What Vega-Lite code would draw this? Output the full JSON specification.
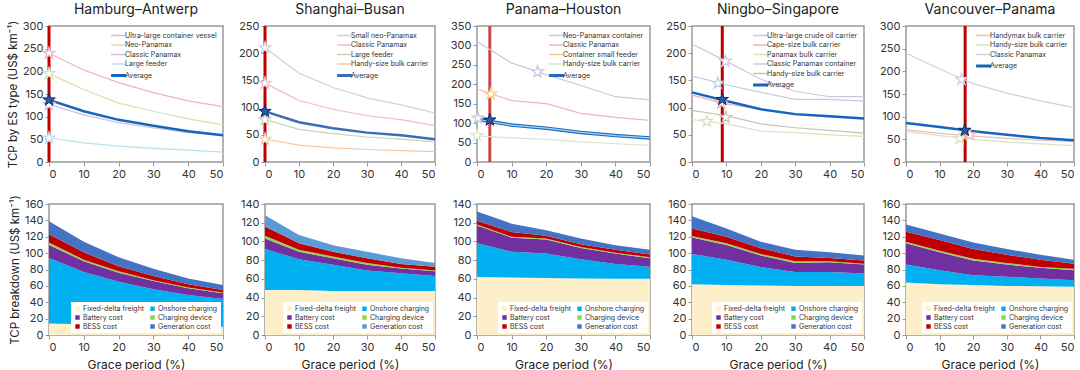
{
"$schema": "https://vega.github.io/schema/vega-lite/v6.json",
"padding": {"left": 6, "top": 2, "right": 1, "bottom": 1},
"background": "white",
"columns": 5,
"bounds": "flush",
"spacing": {"row": 42, "column": 42},
"resolve": {"scale": {"color": "independent", "x": "independent", "y": "independent"}, "legend": {"color": "independent"}},
"config": {
  "font": "Inter",
  "view": {"stroke": "#9a9a9a", "strokeWidth": 1.5},
  "axis": {"domain": false, "grid": false, "tickColor": "#9a9a9a", "tickSize": 4, "labelFontSize": 11, "labelColor": "#333", "titleFontSize": 11.5, "titleFontWeight": "normal", "titleColor": "#222", "labelPadding": 2},
  "axisX": {"titleFontSize": 12},
  "title": {"fontSize": 14, "fontWeight": "normal", "color": "#222", "offset": 3},
  "legend": {"labelFontSize": 7, "labelColor": "#333", "rowPadding": 1.5, "padding": 3, "offset": 4, "labelOffset": 3}
},
"datasets": {
"ha": [
{"series":"Ultra-large container vessel","grace":0,"tcp":240},{"series":"Ultra-large container vessel","grace":10,"tcp":203},{"series":"Ultra-large container vessel","grace":20,"tcp":175},{"series":"Ultra-large container vessel","grace":30,"tcp":153},{"series":"Ultra-large container vessel","grace":40,"tcp":135},{"series":"Ultra-large container vessel","grace":50,"tcp":122},
{"series":"Neo-Panamax","grace":0,"tcp":195},{"series":"Neo-Panamax","grace":10,"tcp":160},{"series":"Neo-Panamax","grace":20,"tcp":130},{"series":"Neo-Panamax","grace":30,"tcp":112},{"series":"Neo-Panamax","grace":40,"tcp":95},{"series":"Neo-Panamax","grace":50,"tcp":82},
{"series":"Classic Panamax","grace":0,"tcp":127},{"series":"Classic Panamax","grace":10,"tcp":104},{"series":"Classic Panamax","grace":20,"tcp":87},{"series":"Classic Panamax","grace":30,"tcp":75},{"series":"Classic Panamax","grace":40,"tcp":65},{"series":"Classic Panamax","grace":50,"tcp":58},
{"series":"Large feeder","grace":0,"tcp":53},{"series":"Large feeder","grace":10,"tcp":42},{"series":"Large feeder","grace":20,"tcp":35},{"series":"Large feeder","grace":30,"tcp":30},{"series":"Large feeder","grace":40,"tcp":26},{"series":"Large feeder","grace":50,"tcp":22},
{"series":"Average","grace":0,"tcp":137},{"series":"Average","grace":10,"tcp":112},{"series":"Average","grace":20,"tcp":93},{"series":"Average","grace":30,"tcp":80},{"series":"Average","grace":40,"tcp":68},{"series":"Average","grace":50,"tcp":59}
],
"sb": [
{"series":"Small neo-Panamax","grace":0,"tcp":210},{"series":"Small neo-Panamax","grace":10,"tcp":163},{"series":"Small neo-Panamax","grace":20,"tcp":137},{"series":"Small neo-Panamax","grace":30,"tcp":118},{"series":"Small neo-Panamax","grace":40,"tcp":105},{"series":"Small neo-Panamax","grace":50,"tcp":90},
{"series":"Classic Panamax","grace":0,"tcp":145},{"series":"Classic Panamax","grace":10,"tcp":113},{"series":"Classic Panamax","grace":20,"tcp":97},{"series":"Classic Panamax","grace":30,"tcp":85},{"series":"Classic Panamax","grace":40,"tcp":78},{"series":"Classic Panamax","grace":50,"tcp":67},
{"series":"Large feeder","grace":0,"tcp":78},{"series":"Large feeder","grace":10,"tcp":60},{"series":"Large feeder","grace":20,"tcp":52},{"series":"Large feeder","grace":30,"tcp":46},{"series":"Large feeder","grace":40,"tcp":42},{"series":"Large feeder","grace":50,"tcp":37},
{"series":"Handy-size bulk carrier","grace":0,"tcp":42},{"series":"Handy-size bulk carrier","grace":10,"tcp":31},{"series":"Handy-size bulk carrier","grace":20,"tcp":26},{"series":"Handy-size bulk carrier","grace":30,"tcp":23},{"series":"Handy-size bulk carrier","grace":40,"tcp":21},{"series":"Handy-size bulk carrier","grace":50,"tcp":19},
{"series":"Average","grace":0,"tcp":93},{"series":"Average","grace":10,"tcp":73},{"series":"Average","grace":20,"tcp":62},{"series":"Average","grace":30,"tcp":54},{"series":"Average","grace":40,"tcp":49},{"series":"Average","grace":50,"tcp":42}
],
"ph": [
{"series":"Neo-Panamax container","grace":0,"tcp":310},{"series":"Neo-Panamax container","grace":10,"tcp":255},{"series":"Neo-Panamax container","grace":20,"tcp":225},{"series":"Neo-Panamax container","grace":30,"tcp":197},{"series":"Neo-Panamax container","grace":40,"tcp":168},{"series":"Neo-Panamax container","grace":50,"tcp":160},
{"series":"Classic Panamax","grace":0,"tcp":188},{"series":"Classic Panamax","grace":10,"tcp":158},{"series":"Classic Panamax","grace":20,"tcp":150},{"series":"Classic Panamax","grace":30,"tcp":125},{"series":"Classic Panamax","grace":40,"tcp":115},{"series":"Classic Panamax","grace":50,"tcp":107},
{"series":"Handy-size bulk carrier","grace":0,"tcp":67},{"series":"Handy-size bulk carrier","grace":10,"tcp":62},{"series":"Handy-size bulk carrier","grace":20,"tcp":58},{"series":"Handy-size bulk carrier","grace":30,"tcp":52},{"series":"Handy-size bulk carrier","grace":40,"tcp":47},{"series":"Handy-size bulk carrier","grace":50,"tcp":43},
{"series":"Average","grace":0,"tcp":110},{"series":"Average","grace":10,"tcp":95},{"series":"Average","grace":20,"tcp":87},{"series":"Average","grace":30,"tcp":76},{"series":"Average","grace":40,"tcp":68},{"series":"Average","grace":50,"tcp":62}
],
"ns": [
{"series":"Ultra-large crude oil carrier","grace":0,"tcp":158},{"series":"Ultra-large crude oil carrier","grace":10,"tcp":142},{"series":"Ultra-large crude oil carrier","grace":20,"tcp":128},{"series":"Ultra-large crude oil carrier","grace":30,"tcp":115},{"series":"Ultra-large crude oil carrier","grace":40,"tcp":115},{"series":"Ultra-large crude oil carrier","grace":50,"tcp":112},
{"series":"Cape-size bulk carrier","grace":0,"tcp":123},{"series":"Cape-size bulk carrier","grace":10,"tcp":107},{"series":"Cape-size bulk carrier","grace":20,"tcp":97},{"series":"Cape-size bulk carrier","grace":30,"tcp":87},{"series":"Cape-size bulk carrier","grace":40,"tcp":83},{"series":"Cape-size bulk carrier","grace":50,"tcp":80},
{"series":"Panamax bulk carrier","grace":0,"tcp":78},{"series":"Panamax bulk carrier","grace":10,"tcp":70},{"series":"Panamax bulk carrier","grace":20,"tcp":57},{"series":"Panamax bulk carrier","grace":30,"tcp":54},{"series":"Panamax bulk carrier","grace":40,"tcp":50},{"series":"Panamax bulk carrier","grace":50,"tcp":47},
{"series":"Classic Panamax container","grace":0,"tcp":217},{"series":"Classic Panamax container","grace":10,"tcp":185},{"series":"Classic Panamax container","grace":20,"tcp":152},{"series":"Classic Panamax container","grace":30,"tcp":130},{"series":"Classic Panamax container","grace":40,"tcp":120},{"series":"Classic Panamax container","grace":50,"tcp":120},
{"series":"Handy-size bulk carrier","grace":0,"tcp":95},{"series":"Handy-size bulk carrier","grace":10,"tcp":85},{"series":"Handy-size bulk carrier","grace":20,"tcp":70},{"series":"Handy-size bulk carrier","grace":30,"tcp":63},{"series":"Handy-size bulk carrier","grace":40,"tcp":58},{"series":"Handy-size bulk carrier","grace":50,"tcp":53},
{"series":"Average","grace":0,"tcp":128},{"series":"Average","grace":10,"tcp":112},{"series":"Average","grace":20,"tcp":97},{"series":"Average","grace":30,"tcp":88},{"series":"Average","grace":40,"tcp":84},{"series":"Average","grace":50,"tcp":80}
],
"vp": [
{"series":"Handymax bulk carrier","grace":0,"tcp":71},{"series":"Handymax bulk carrier","grace":10,"tcp":63},{"series":"Handymax bulk carrier","grace":20,"tcp":57},{"series":"Handymax bulk carrier","grace":30,"tcp":52},{"series":"Handymax bulk carrier","grace":40,"tcp":48},{"series":"Handymax bulk carrier","grace":50,"tcp":45},
{"series":"Handy-size bulk carrier","grace":0,"tcp":67},{"series":"Handy-size bulk carrier","grace":10,"tcp":58},{"series":"Handy-size bulk carrier","grace":20,"tcp":50},{"series":"Handy-size bulk carrier","grace":30,"tcp":44},{"series":"Handy-size bulk carrier","grace":40,"tcp":40},{"series":"Handy-size bulk carrier","grace":50,"tcp":36},
{"series":"Classic Panamax","grace":0,"tcp":240},{"series":"Classic Panamax","grace":10,"tcp":205},{"series":"Classic Panamax","grace":20,"tcp":173},{"series":"Classic Panamax","grace":30,"tcp":152},{"series":"Classic Panamax","grace":40,"tcp":135},{"series":"Classic Panamax","grace":50,"tcp":120},
{"series":"Average","grace":0,"tcp":86},{"series":"Average","grace":10,"tcp":77},{"series":"Average","grace":20,"tcp":68},{"series":"Average","grace":30,"tcp":60},{"series":"Average","grace":40,"tcp":53},{"series":"Average","grace":50,"tcp":48}
],
"stars": [
{"route":"HA","series":"Ultra-large container vessel","grace":0,"tcp":240},{"route":"HA","series":"Neo-Panamax","grace":0,"tcp":195},{"route":"HA","series":"Classic Panamax","grace":0,"tcp":127},{"route":"HA","series":"Large feeder","grace":0,"tcp":53},{"route":"HA","series":"Average","grace":0,"tcp":137},
{"route":"SB","series":"Small neo-Panamax","grace":0,"tcp":210},{"route":"SB","series":"Classic Panamax","grace":0,"tcp":145},{"route":"SB","series":"Large feeder","grace":0,"tcp":78},{"route":"SB","series":"Handy-size bulk carrier","grace":0,"tcp":42},{"route":"SB","series":"Average","grace":0,"tcp":93},
{"route":"PH","series":"Neo-Panamax container","grace":17.5,"tcp":232},{"route":"PH","series":"Container small feeder","grace":4,"tcp":175},{"route":"PH","series":"Neo-Panamax container","grace":0.3,"tcp":113},{"route":"PH","series":"Handy-size bulk carrier","grace":0,"tcp":68},{"route":"PH","series":"Average","grace":3.7,"tcp":108},
{"route":"NS","series":"Classic Panamax container","grace":9.7,"tcp":185},{"route":"NS","series":"Ultra-large crude oil carrier","grace":7.5,"tcp":145},{"route":"NS","series":"Cape-size bulk carrier","grace":8.5,"tcp":108},{"route":"NS","series":"Handy-size bulk carrier","grace":9.8,"tcp":82},{"route":"NS","series":"Panamax bulk carrier","grace":4.3,"tcp":75},{"route":"NS","series":"Average","grace":8.8,"tcp":115},
{"route":"VP","series":"Classic Panamax","grace":16.5,"tcp":182},{"route":"VP","series":"Handymax bulk carrier","grace":19,"tcp":60},{"route":"VP","series":"Handy-size bulk carrier","grace":16,"tcp":52},{"route":"VP","series":"Average","grace":17.5,"tcp":70}
],
"ref": [
{"route":"HA","grace":0},{"route":"SB","grace":0},{"route":"PH","grace":3.7},{"route":"NS","grace":8.8},{"route":"VP","grace":17.6}
],
"stackrank": [
{"component":"Fixed-delta freight","rank":1},{"component":"Onshore charging","rank":2},{"component":"Battery cost","rank":3},{"component":"Charging device","rank":4},{"component":"BESS cost","rank":5},{"component":"Generation cost","rank":6}
],
"bd": [
{"route":"HA","component":"Fixed-delta freight","grace":0,"cost":14},{"route":"HA","component":"Fixed-delta freight","grace":10,"cost":13},{"route":"HA","component":"Fixed-delta freight","grace":20,"cost":12},{"route":"HA","component":"Fixed-delta freight","grace":30,"cost":11},{"route":"HA","component":"Fixed-delta freight","grace":40,"cost":11},{"route":"HA","component":"Fixed-delta freight","grace":50,"cost":10},
{"route":"HA","component":"Onshore charging","grace":0,"cost":80},{"route":"HA","component":"Onshore charging","grace":10,"cost":64},{"route":"HA","component":"Onshore charging","grace":20,"cost":53},{"route":"HA","component":"Onshore charging","grace":30,"cost":45},{"route":"HA","component":"Onshore charging","grace":40,"cost":38},{"route":"HA","component":"Onshore charging","grace":50,"cost":34},
{"route":"HA","component":"Battery cost","grace":0,"cost":16},{"route":"HA","component":"Battery cost","grace":10,"cost":13},{"route":"HA","component":"Battery cost","grace":20,"cost":11},{"route":"HA","component":"Battery cost","grace":30,"cost":10},{"route":"HA","component":"Battery cost","grace":40,"cost":8},{"route":"HA","component":"Battery cost","grace":50,"cost":7},
{"route":"HA","component":"Charging device","grace":0,"cost":3},{"route":"HA","component":"Charging device","grace":10,"cost":2},{"route":"HA","component":"Charging device","grace":20,"cost":2},{"route":"HA","component":"Charging device","grace":30,"cost":1},{"route":"HA","component":"Charging device","grace":40,"cost":1},{"route":"HA","component":"Charging device","grace":50,"cost":1},
{"route":"HA","component":"BESS cost","grace":0,"cost":10},{"route":"HA","component":"BESS cost","grace":10,"cost":9},{"route":"HA","component":"BESS cost","grace":20,"cost":6},{"route":"HA","component":"BESS cost","grace":30,"cost":5},{"route":"HA","component":"BESS cost","grace":40,"cost":4},{"route":"HA","component":"BESS cost","grace":50,"cost":3},
{"route":"HA","component":"Generation cost","grace":0,"cost":16},{"route":"HA","component":"Generation cost","grace":10,"cost":13},{"route":"HA","component":"Generation cost","grace":20,"cost":11},{"route":"HA","component":"Generation cost","grace":30,"cost":9},{"route":"HA","component":"Generation cost","grace":40,"cost":7},{"route":"HA","component":"Generation cost","grace":50,"cost":6},
{"route":"SB","component":"Fixed-delta freight","grace":0,"cost":48},{"route":"SB","component":"Fixed-delta freight","grace":10,"cost":48},{"route":"SB","component":"Fixed-delta freight","grace":20,"cost":47},{"route":"SB","component":"Fixed-delta freight","grace":30,"cost":47},{"route":"SB","component":"Fixed-delta freight","grace":40,"cost":47},{"route":"SB","component":"Fixed-delta freight","grace":50,"cost":47},
{"route":"SB","component":"Onshore charging","grace":0,"cost":44},{"route":"SB","component":"Onshore charging","grace":10,"cost":33},{"route":"SB","component":"Onshore charging","grace":20,"cost":28},{"route":"SB","component":"Onshore charging","grace":30,"cost":22},{"route":"SB","component":"Onshore charging","grace":40,"cost":19},{"route":"SB","component":"Onshore charging","grace":50,"cost":16},
{"route":"SB","component":"Battery cost","grace":0,"cost":11},{"route":"SB","component":"Battery cost","grace":10,"cost":8},{"route":"SB","component":"Battery cost","grace":20,"cost":7},{"route":"SB","component":"Battery cost","grace":30,"cost":6},{"route":"SB","component":"Battery cost","grace":40,"cost":5},{"route":"SB","component":"Battery cost","grace":50,"cost":5},
{"route":"SB","component":"Charging device","grace":0,"cost":3},{"route":"SB","component":"Charging device","grace":10,"cost":2},{"route":"SB","component":"Charging device","grace":20,"cost":2},{"route":"SB","component":"Charging device","grace":30,"cost":2},{"route":"SB","component":"Charging device","grace":40,"cost":1},{"route":"SB","component":"Charging device","grace":50,"cost":1},
{"route":"SB","component":"BESS cost","grace":0,"cost":10},{"route":"SB","component":"BESS cost","grace":10,"cost":7},{"route":"SB","component":"BESS cost","grace":20,"cost":5},{"route":"SB","component":"BESS cost","grace":30,"cost":5},{"route":"SB","component":"BESS cost","grace":40,"cost":4},{"route":"SB","component":"BESS cost","grace":50,"cost":4},
{"route":"SB","component":"Generation cost","grace":0,"cost":12},{"route":"SB","component":"Generation cost","grace":10,"cost":9},{"route":"SB","component":"Generation cost","grace":20,"cost":7},{"route":"SB","component":"Generation cost","grace":30,"cost":7},{"route":"SB","component":"Generation cost","grace":40,"cost":6},{"route":"SB","component":"Generation cost","grace":50,"cost":4},
{"route":"PH","component":"Fixed-delta freight","grace":0,"cost":62},{"route":"PH","component":"Fixed-delta freight","grace":10,"cost":61.5},{"route":"PH","component":"Fixed-delta freight","grace":20,"cost":61},{"route":"PH","component":"Fixed-delta freight","grace":30,"cost":60.5},{"route":"PH","component":"Fixed-delta freight","grace":40,"cost":60},{"route":"PH","component":"Fixed-delta freight","grace":50,"cost":60},
{"route":"PH","component":"Onshore charging","grace":0,"cost":36},{"route":"PH","component":"Onshore charging","grace":10,"cost":27.5},{"route":"PH","component":"Onshore charging","grace":20,"cost":26},{"route":"PH","component":"Onshore charging","grace":30,"cost":20.5},{"route":"PH","component":"Onshore charging","grace":40,"cost":16},{"route":"PH","component":"Onshore charging","grace":50,"cost":13},
{"route":"PH","component":"Battery cost","grace":0,"cost":19},{"route":"PH","component":"Battery cost","grace":10,"cost":15},{"route":"PH","component":"Battery cost","grace":20,"cost":15},{"route":"PH","component":"Battery cost","grace":30,"cost":12},{"route":"PH","component":"Battery cost","grace":40,"cost":11},{"route":"PH","component":"Battery cost","grace":50,"cost":9},
{"route":"PH","component":"Charging device","grace":0,"cost":1},{"route":"PH","component":"Charging device","grace":10,"cost":1},{"route":"PH","component":"Charging device","grace":20,"cost":1},{"route":"PH","component":"Charging device","grace":30,"cost":1},{"route":"PH","component":"Charging device","grace":40,"cost":1},{"route":"PH","component":"Charging device","grace":50,"cost":1},
{"route":"PH","component":"BESS cost","grace":0,"cost":4},{"route":"PH","component":"BESS cost","grace":10,"cost":5},{"route":"PH","component":"BESS cost","grace":20,"cost":3},{"route":"PH","component":"BESS cost","grace":30,"cost":3},{"route":"PH","component":"BESS cost","grace":40,"cost":3},{"route":"PH","component":"BESS cost","grace":50,"cost":3},
{"route":"PH","component":"Generation cost","grace":0,"cost":10},{"route":"PH","component":"Generation cost","grace":10,"cost":9},{"route":"PH","component":"Generation cost","grace":20,"cost":6},{"route":"PH","component":"Generation cost","grace":30,"cost":6},{"route":"PH","component":"Generation cost","grace":40,"cost":5},{"route":"PH","component":"Generation cost","grace":50,"cost":5},
{"route":"NS","component":"Fixed-delta freight","grace":0,"cost":62},{"route":"NS","component":"Fixed-delta freight","grace":10,"cost":61},{"route":"NS","component":"Fixed-delta freight","grace":20,"cost":60.5},{"route":"NS","component":"Fixed-delta freight","grace":30,"cost":60},{"route":"NS","component":"Fixed-delta freight","grace":40,"cost":60},{"route":"NS","component":"Fixed-delta freight","grace":50,"cost":60},
{"route":"NS","component":"Onshore charging","grace":0,"cost":37},{"route":"NS","component":"Onshore charging","grace":10,"cost":31},{"route":"NS","component":"Onshore charging","grace":20,"cost":22.5},{"route":"NS","component":"Onshore charging","grace":30,"cost":17},{"route":"NS","component":"Onshore charging","grace":40,"cost":17},{"route":"NS","component":"Onshore charging","grace":50,"cost":15},
{"route":"NS","component":"Battery cost","grace":0,"cost":20},{"route":"NS","component":"Battery cost","grace":10,"cost":18},{"route":"NS","component":"Battery cost","grace":20,"cost":14},{"route":"NS","component":"Battery cost","grace":30,"cost":11},{"route":"NS","component":"Battery cost","grace":40,"cost":12},{"route":"NS","component":"Battery cost","grace":50,"cost":11},
{"route":"NS","component":"Charging device","grace":0,"cost":2},{"route":"NS","component":"Charging device","grace":10,"cost":2},{"route":"NS","component":"Charging device","grace":20,"cost":2},{"route":"NS","component":"Charging device","grace":30,"cost":2},{"route":"NS","component":"Charging device","grace":40,"cost":1},{"route":"NS","component":"Charging device","grace":50,"cost":1},
{"route":"NS","component":"BESS cost","grace":0,"cost":9},{"route":"NS","component":"BESS cost","grace":10,"cost":8},{"route":"NS","component":"BESS cost","grace":20,"cost":7},{"route":"NS","component":"BESS cost","grace":30,"cost":6},{"route":"NS","component":"BESS cost","grace":40,"cost":4},{"route":"NS","component":"BESS cost","grace":50,"cost":4},
{"route":"NS","component":"Generation cost","grace":0,"cost":15},{"route":"NS","component":"Generation cost","grace":10,"cost":10},{"route":"NS","component":"Generation cost","grace":20,"cost":8},{"route":"NS","component":"Generation cost","grace":30,"cost":8},{"route":"NS","component":"Generation cost","grace":40,"cost":7},{"route":"NS","component":"Generation cost","grace":50,"cost":6},
{"route":"VP","component":"Fixed-delta freight","grace":0,"cost":64},{"route":"VP","component":"Fixed-delta freight","grace":10,"cost":62},{"route":"VP","component":"Fixed-delta freight","grace":20,"cost":61},{"route":"VP","component":"Fixed-delta freight","grace":30,"cost":60},{"route":"VP","component":"Fixed-delta freight","grace":40,"cost":59.5},{"route":"VP","component":"Fixed-delta freight","grace":50,"cost":59},
{"route":"VP","component":"Onshore charging","grace":0,"cost":22},{"route":"VP","component":"Onshore charging","grace":10,"cost":17},{"route":"VP","component":"Onshore charging","grace":20,"cost":12},{"route":"VP","component":"Onshore charging","grace":30,"cost":11},{"route":"VP","component":"Onshore charging","grace":40,"cost":9.5},{"route":"VP","component":"Onshore charging","grace":50,"cost":8},
{"route":"VP","component":"Battery cost","grace":0,"cost":26},{"route":"VP","component":"Battery cost","grace":10,"cost":22},{"route":"VP","component":"Battery cost","grace":20,"cost":18},{"route":"VP","component":"Battery cost","grace":30,"cost":15},{"route":"VP","component":"Battery cost","grace":40,"cost":13},{"route":"VP","component":"Battery cost","grace":50,"cost":12},
{"route":"VP","component":"Charging device","grace":0,"cost":2},{"route":"VP","component":"Charging device","grace":10,"cost":2},{"route":"VP","component":"Charging device","grace":20,"cost":2},{"route":"VP","component":"Charging device","grace":30,"cost":2},{"route":"VP","component":"Charging device","grace":40,"cost":1},{"route":"VP","component":"Charging device","grace":50,"cost":2},
{"route":"VP","component":"BESS cost","grace":0,"cost":12},{"route":"VP","component":"BESS cost","grace":10,"cost":13},{"route":"VP","component":"BESS cost","grace":20,"cost":12},{"route":"VP","component":"BESS cost","grace":30,"cost":10},{"route":"VP","component":"BESS cost","grace":40,"cost":9},{"route":"VP","component":"BESS cost","grace":50,"cost":6},
{"route":"VP","component":"Generation cost","grace":0,"cost":9},{"route":"VP","component":"Generation cost","grace":10,"cost":8},{"route":"VP","component":"Generation cost","grace":20,"cost":8},{"route":"VP","component":"Generation cost","grace":30,"cost":7},{"route":"VP","component":"Generation cost","grace":40,"cost":6},{"route":"VP","component":"Generation cost","grace":50,"cost":5}
]
},
"concat": [
{
 "width": 174, "height": 136, "title": "Hamburg–Antwerp",
 "encoding": {"x": {"field": "grace", "type": "quantitative", "scale": {"domain": [0, 50]}, "axis": {"values": [0,10,20,30,40,50], "title": null}}},
 "layer": [
  {"data": {"name": "ref"}, "transform": [{"filter": "datum.route === 'HA'"}], "mark": {"type": "rule", "color": "#c00000", "strokeWidth": 3}, "encoding": {}},
  {"data": {"name": "ha"}, "transform": [{"filter": "datum.series !== 'Average'"}], "mark": {"type": "line", "strokeWidth": 1.2},
   "encoding": {"y": {"field": "tcp", "type": "quantitative", "scale": {"domain": [0, 300]}, "axis": {"values": [0,50,100,150,200,250,300], "title": "TCP by ES type (US$ km⁻¹)"}},
    "color": {"field": "series", "type": "nominal", "scale": {"domain": ["Ultra-large container vessel","Neo-Panamax","Classic Panamax","Large feeder","Average"], "range": ["#efb4bc","#d6e0b0","#cfc0e4","#b8e0ee","#1565c0"]},
     "legend": {"title": null, "orient": "top-right", "symbolType": "stroke", "symbolSize": 220, "symbolStrokeWidth": 1.5, "offset": 3, "encode": {"symbols": {"update": {"strokeWidth": {"signal": "datum.value === 'Average' ? 3 : 1.5"}}}}}}}},
  {"data": {"name": "ha"}, "transform": [{"filter": "datum.series === 'Average'"}], "mark": {"type": "line", "strokeWidth": 2.5},
   "encoding": {"y": {"field": "tcp", "type": "quantitative", "scale": {"domain": [0, 300]}, "axis": {"values": [0,50,100,150,200,250,300], "title": "TCP by ES type (US$ km⁻¹)"}}, "color": {"field": "series", "type": "nominal"}}},
  {"data": {"name": "stars"}, "transform": [{"filter": "datum.route === 'HA' && datum.series !== 'Average'"}], "mark": {"type": "point", "shape": "M0,-1L0.2245,-0.309L0.9511,-0.309L0.3633,0.118L0.5878,0.809L0,0.382L-0.5878,0.809L-0.3633,0.118L-0.9511,-0.309L-0.2245,-0.309Z", "filled": false, "fill": "white", "fillOpacity": 1, "size": 150, "strokeWidth": 1.2, "opacity": 1},
   "encoding": {"y": {"field": "tcp", "type": "quantitative", "scale": {"domain": [0, 300]}, "axis": {"values": [0,50,100,150,200,250,300], "title": "TCP by ES type (US$ km⁻¹)"}}, "color": {"field": "series", "type": "nominal", "legend": null}}},
  {"data": {"name": "stars"}, "transform": [{"filter": "datum.route === 'HA' && datum.series === 'Average'"}], "mark": {"type": "point", "shape": "M0,-1L0.2245,-0.309L0.9511,-0.309L0.3633,0.118L0.5878,0.809L0,0.382L-0.5878,0.809L-0.3633,0.118L-0.9511,-0.309L-0.2245,-0.309Z", "filled": true, "color": "#2a5ab0", "stroke": "#0d2a5a", "strokeWidth": 1, "size": 170, "opacity": 1},
   "encoding": {"y": {"field": "tcp", "type": "quantitative", "scale": {"domain": [0, 300]}, "axis": {"values": [0,50,100,150,200,250,300], "title": "TCP by ES type (US$ km⁻¹)"}}}}
 ]
},
{
 "width": 170, "height": 136, "title": "Shanghai–Busan",
 "encoding": {"x": {"field": "grace", "type": "quantitative", "scale": {"domain": [0, 50]}, "axis": {"values": [0,10,20,30,40,50], "title": null}}},
 "layer": [
  {"data": {"name": "ref"}, "transform": [{"filter": "datum.route === 'SB'"}], "mark": {"type": "rule", "color": "#c00000", "strokeWidth": 3}, "encoding": {}},
  {"data": {"name": "sb"}, "transform": [{"filter": "datum.series !== 'Average'"}], "mark": {"type": "line", "strokeWidth": 1.2},
   "encoding": {"y": {"field": "tcp", "type": "quantitative", "scale": {"domain": [0, 250]}, "axis": {"values": [0,50,100,150,200,250], "title": null}},
    "color": {"field": "series", "type": "nominal", "scale": {"domain": ["Small neo-Panamax","Classic Panamax","Large feeder","Handy-size bulk carrier","Average"], "range": ["#d2cde8","#efbcc0","#c9d3bb","#f6c9a4","#3a6db5"]},
     "legend": {"title": null, "orient": "top-right", "symbolType": "stroke", "symbolSize": 220, "symbolStrokeWidth": 1.5, "offset": 3, "encode": {"symbols": {"update": {"strokeWidth": {"signal": "datum.value === 'Average' ? 3 : 1.5"}}}}}}}},
  {"data": {"name": "sb"}, "transform": [{"filter": "datum.series === 'Average'"}], "mark": {"type": "line", "strokeWidth": 2.5},
   "encoding": {"y": {"field": "tcp", "type": "quantitative", "scale": {"domain": [0, 250]}, "axis": {"values": [0,50,100,150,200,250], "title": null}}, "color": {"field": "series", "type": "nominal"}}},
  {"data": {"name": "stars"}, "transform": [{"filter": "datum.route === 'SB' && datum.series !== 'Average'"}], "mark": {"type": "point", "shape": "M0,-1L0.2245,-0.309L0.9511,-0.309L0.3633,0.118L0.5878,0.809L0,0.382L-0.5878,0.809L-0.3633,0.118L-0.9511,-0.309L-0.2245,-0.309Z", "filled": false, "fill": "white", "fillOpacity": 1, "size": 150, "strokeWidth": 1.2, "opacity": 1},
   "encoding": {"y": {"field": "tcp", "type": "quantitative", "scale": {"domain": [0, 250]}, "axis": {"values": [0,50,100,150,200,250], "title": null}}, "color": {"field": "series", "type": "nominal", "legend": null}}},
  {"data": {"name": "stars"}, "transform": [{"filter": "datum.route === 'SB' && datum.series === 'Average'"}], "mark": {"type": "point", "shape": "M0,-1L0.2245,-0.309L0.9511,-0.309L0.3633,0.118L0.5878,0.809L0,0.382L-0.5878,0.809L-0.3633,0.118L-0.9511,-0.309L-0.2245,-0.309Z", "filled": true, "color": "#2a5ab0", "stroke": "#0d2a5a", "strokeWidth": 1, "size": 170, "opacity": 1},
   "encoding": {"y": {"field": "tcp", "type": "quantitative", "scale": {"domain": [0, 250]}, "axis": {"values": [0,50,100,150,200,250], "title": null}}}}
 ]
},
{
 "width": 173, "height": 136, "title": "Panama–Houston",
 "encoding": {"x": {"field": "grace", "type": "quantitative", "scale": {"domain": [0, 50]}, "axis": {"values": [0,10,20,30,40,50], "title": null}}},
 "layer": [
  {"data": {"name": "ref"}, "transform": [{"filter": "datum.route === 'PH'"}], "mark": {"type": "rule", "color": "#c9474a", "strokeWidth": 3}, "encoding": {}},
  {"data": {"name": "ph"}, "transform": [{"filter": "datum.series !== 'Average'"}], "mark": {"type": "line", "strokeWidth": 1.2},
   "encoding": {"y": {"field": "tcp", "type": "quantitative", "scale": {"domain": [0, 350]}, "axis": {"values": [0,50,100,150,200,250,300,350], "title": null}},
    "color": {"field": "series", "type": "nominal", "scale": {"domain": ["Neo-Panamax container","Classic Panamax","Container small feeder","Handy-size bulk carrier","Average"], "range": ["#cdc6e4","#efb8b8","#f4cf7a","#dfe3cc","#1f6cbf"]},
     "legend": {"title": null, "orient": "top-right", "symbolType": "stroke", "symbolSize": 220, "symbolStrokeWidth": 1.5, "offset": 3, "encode": {"symbols": {"update": {"strokeWidth": {"signal": "datum.value === 'Average' ? 3 : 1.5"}}}}}}}},
  {"data": {"name": "ph"}, "transform": [{"filter": "datum.series === 'Average'"}], "mark": {"type": "line", "strokeWidth": 3.5},
   "encoding": {"y": {"field": "tcp", "type": "quantitative", "scale": {"domain": [0, 350]}, "axis": {"values": [0,50,100,150,200,250,300,350], "title": null}}, "color": {"field": "series", "type": "nominal"}}},
  {"data": {"name": "ph"}, "transform": [{"filter": "datum.series === 'Average'"}], "mark": {"type": "line", "strokeWidth": 1.2, "color": "#9fd6f2"},
   "encoding": {"y": {"field": "tcp", "type": "quantitative", "scale": {"domain": [0, 350]}, "axis": {"values": [0,50,100,150,200,250,300,350], "title": null}}}},
  {"data": {"name": "stars"}, "transform": [{"filter": "datum.route === 'PH' && datum.series !== 'Average'"}], "mark": {"type": "point", "shape": "M0,-1L0.2245,-0.309L0.9511,-0.309L0.3633,0.118L0.5878,0.809L0,0.382L-0.5878,0.809L-0.3633,0.118L-0.9511,-0.309L-0.2245,-0.309Z", "filled": false, "fill": "white", "fillOpacity": 1, "size": 150, "strokeWidth": 1.2, "opacity": 1},
   "encoding": {"y": {"field": "tcp", "type": "quantitative", "scale": {"domain": [0, 350]}, "axis": {"values": [0,50,100,150,200,250,300,350], "title": null}}, "color": {"field": "series", "type": "nominal", "legend": null}}},
  {"data": {"name": "stars"}, "transform": [{"filter": "datum.route === 'PH' && datum.series === 'Average'"}], "mark": {"type": "point", "shape": "M0,-1L0.2245,-0.309L0.9511,-0.309L0.3633,0.118L0.5878,0.809L0,0.382L-0.5878,0.809L-0.3633,0.118L-0.9511,-0.309L-0.2245,-0.309Z", "filled": true, "color": "#2a5ab0", "stroke": "#0d2a5a", "strokeWidth": 1, "size": 170, "opacity": 1},
   "encoding": {"y": {"field": "tcp", "type": "quantitative", "scale": {"domain": [0, 350]}, "axis": {"values": [0,50,100,150,200,250,300,350], "title": null}}}}
 ]
},
{
 "width": 172, "height": 136, "title": "Ningbo–Singapore",
 "encoding": {"x": {"field": "grace", "type": "quantitative", "scale": {"domain": [0, 50]}, "axis": {"values": [0,10,20,30,40,50], "title": null}}},
 "layer": [
  {"data": {"name": "ref"}, "transform": [{"filter": "datum.route === 'NS'"}], "mark": {"type": "rule", "color": "#c00000", "strokeWidth": 3}, "encoding": {}},
  {"data": {"name": "ns"}, "transform": [{"filter": "datum.series !== 'Average'"}], "mark": {"type": "line", "strokeWidth": 1.2},
   "encoding": {"y": {"field": "tcp", "type": "quantitative", "scale": {"domain": [0, 250]}, "axis": {"values": [0,50,100,150,200,250], "title": null}},
    "color": {"field": "series", "type": "nominal", "scale": {"domain": ["Ultra-large crude oil carrier","Cape-size bulk carrier","Panamax bulk carrier","Classic Panamax container","Handy-size bulk carrier","Average"], "range": ["#b6cfea","#f0b0b0","#d6e4bc","#d2c4e2","#c9c0b6","#1565c0"]},
     "legend": {"title": null, "orient": "top-right", "symbolType": "stroke", "symbolSize": 220, "symbolStrokeWidth": 1.5, "offset": 3, "encode": {"symbols": {"update": {"strokeWidth": {"signal": "datum.value === 'Average' ? 3 : 1.5"}}}}}}}},
  {"data": {"name": "ns"}, "transform": [{"filter": "datum.series === 'Average'"}], "mark": {"type": "line", "strokeWidth": 2.5},
   "encoding": {"y": {"field": "tcp", "type": "quantitative", "scale": {"domain": [0, 250]}, "axis": {"values": [0,50,100,150,200,250], "title": null}}, "color": {"field": "series", "type": "nominal"}}},
  {"data": {"name": "stars"}, "transform": [{"filter": "datum.route === 'NS' && datum.series !== 'Average'"}], "mark": {"type": "point", "shape": "M0,-1L0.2245,-0.309L0.9511,-0.309L0.3633,0.118L0.5878,0.809L0,0.382L-0.5878,0.809L-0.3633,0.118L-0.9511,-0.309L-0.2245,-0.309Z", "filled": false, "fill": "white", "fillOpacity": 1, "size": 150, "strokeWidth": 1.2, "opacity": 1},
   "encoding": {"y": {"field": "tcp", "type": "quantitative", "scale": {"domain": [0, 250]}, "axis": {"values": [0,50,100,150,200,250], "title": null}}, "color": {"field": "series", "type": "nominal", "legend": null}}},
  {"data": {"name": "stars"}, "transform": [{"filter": "datum.route === 'NS' && datum.series === 'Average'"}], "mark": {"type": "point", "shape": "M0,-1L0.2245,-0.309L0.9511,-0.309L0.3633,0.118L0.5878,0.809L0,0.382L-0.5878,0.809L-0.3633,0.118L-0.9511,-0.309L-0.2245,-0.309Z", "filled": true, "color": "#2a5ab0", "stroke": "#0d2a5a", "strokeWidth": 1, "size": 170, "opacity": 1},
   "encoding": {"y": {"field": "tcp", "type": "quantitative", "scale": {"domain": [0, 250]}, "axis": {"values": [0,50,100,150,200,250], "title": null}}}}
 ]
},
{
 "width": 168, "height": 136, "title": "Vancouver–Panama",
 "encoding": {"x": {"field": "grace", "type": "quantitative", "scale": {"domain": [0, 50]}, "axis": {"values": [0,10,20,30,40,50], "title": null}}},
 "layer": [
  {"data": {"name": "ref"}, "transform": [{"filter": "datum.route === 'VP'"}], "mark": {"type": "rule", "color": "#c00000", "strokeWidth": 3}, "encoding": {}},
  {"data": {"name": "vp"}, "transform": [{"filter": "datum.series !== 'Average'"}], "mark": {"type": "line", "strokeWidth": 1.2},
   "encoding": {"y": {"field": "tcp", "type": "quantitative", "scale": {"domain": [0, 300]}, "axis": {"values": [0,50,100,150,200,250,300], "title": null}},
    "color": {"field": "series", "type": "nominal", "scale": {"domain": ["Handymax bulk carrier","Handy-size bulk carrier","Classic Panamax","Average"], "range": ["#f0bcbc","#d8e4c0","#d2cde8","#1565c0"]},
     "legend": {"title": null, "orient": "top-right", "symbolType": "stroke", "symbolSize": 220, "symbolStrokeWidth": 1.5, "offset": 3, "encode": {"symbols": {"update": {"strokeWidth": {"signal": "datum.value === 'Average' ? 3 : 1.5"}}}}}}}},
  {"data": {"name": "vp"}, "transform": [{"filter": "datum.series === 'Average'"}], "mark": {"type": "line", "strokeWidth": 2.5},
   "encoding": {"y": {"field": "tcp", "type": "quantitative", "scale": {"domain": [0, 300]}, "axis": {"values": [0,50,100,150,200,250,300], "title": null}}, "color": {"field": "series", "type": "nominal"}}},
  {"data": {"name": "stars"}, "transform": [{"filter": "datum.route === 'VP' && datum.series !== 'Average'"}], "mark": {"type": "point", "shape": "M0,-1L0.2245,-0.309L0.9511,-0.309L0.3633,0.118L0.5878,0.809L0,0.382L-0.5878,0.809L-0.3633,0.118L-0.9511,-0.309L-0.2245,-0.309Z", "filled": false, "fill": "white", "fillOpacity": 1, "size": 150, "strokeWidth": 1.2, "opacity": 1},
   "encoding": {"y": {"field": "tcp", "type": "quantitative", "scale": {"domain": [0, 300]}, "axis": {"values": [0,50,100,150,200,250,300], "title": null}}, "color": {"field": "series", "type": "nominal", "legend": null}}},
  {"data": {"name": "stars"}, "transform": [{"filter": "datum.route === 'VP' && datum.series === 'Average'"}], "mark": {"type": "point", "shape": "M0,-1L0.2245,-0.309L0.9511,-0.309L0.3633,0.118L0.5878,0.809L0,0.382L-0.5878,0.809L-0.3633,0.118L-0.9511,-0.309L-0.2245,-0.309Z", "filled": true, "color": "#2a5ab0", "stroke": "#0d2a5a", "strokeWidth": 1, "size": 170, "opacity": 1},
   "encoding": {"y": {"field": "tcp", "type": "quantitative", "scale": {"domain": [0, 300]}, "axis": {"values": [0,50,100,150,200,250,300], "title": null}}}}
 ]
},
{
 "width": 174, "height": 131, "data": {"name": "bd"},
 "transform": [{"filter": "datum.route === 'HA'"}, {"lookup": "component", "from": {"data": {"name": "stackrank"}, "key": "component", "fields": ["rank"]}}],
 "mark": {"type": "area"},
 "encoding": {
  "x": {"field": "grace", "type": "quantitative", "scale": {"domain": [0, 50]}, "axis": {"values": [0,10,20,30,40,50], "title": "Grace period (%)", "titlePadding": 7}},
  "y": {"field": "cost", "type": "quantitative", "stack": "zero", "scale": {"domain": [0, 160]}, "axis": {"values": [0,20,40,60,80,100,120,140,160], "title": "TCP breakdown (US$ km⁻¹)"}},
  "order": {"field": "rank", "type": "quantitative", "sort": "ascending"},
  "color": {"field": "component", "type": "nominal", "scale": {"domain": ["Fixed-delta freight","Onshore charging","Battery cost","Charging device","BESS cost","Generation cost"], "range": ["#fdefc8","#00b0f0","#7030a0","#92d050","#c00000","#4472c4"]},
   "legend": {"title": null, "orient": "bottom-right", "columns": 2, "direction": "horizontal", "fillColor": "white", "symbolType": "square", "symbolSize": 20, "symbolStrokeWidth": 0, "offset": 2, "padding": 3, "columnPadding": 4, "rowPadding": 1, "labelOffset": 2}}
 }
},
{
 "width": 170, "height": 131, "data": {"name": "bd"},
 "transform": [{"filter": "datum.route === 'SB'"}, {"lookup": "component", "from": {"data": {"name": "stackrank"}, "key": "component", "fields": ["rank"]}}],
 "mark": {"type": "area"},
 "encoding": {
  "x": {"field": "grace", "type": "quantitative", "scale": {"domain": [0, 50]}, "axis": {"values": [0,10,20,30,40,50], "title": "Grace period (%)", "titlePadding": 7}},
  "y": {"field": "cost", "type": "quantitative", "stack": "zero", "scale": {"domain": [0, 140]}, "axis": {"values": [0,20,40,60,80,100,120,140], "title": null}},
  "order": {"field": "rank", "type": "quantitative", "sort": "ascending"},
  "color": {"field": "component", "type": "nominal", "scale": {"domain": ["Fixed-delta freight","Onshore charging","Battery cost","Charging device","BESS cost","Generation cost"], "range": ["#fdefc8","#00b0f0","#7030a0","#92d050","#c00000","#5b9bd5"]},
   "legend": {"title": null, "orient": "bottom-right", "columns": 2, "direction": "horizontal", "fillColor": "white", "symbolType": "square", "symbolSize": 20, "symbolStrokeWidth": 0, "offset": 2, "padding": 3, "columnPadding": 4, "rowPadding": 1, "labelOffset": 2}}
 }
},
{
 "width": 173, "height": 131, "data": {"name": "bd"},
 "transform": [{"filter": "datum.route === 'PH'"}, {"lookup": "component", "from": {"data": {"name": "stackrank"}, "key": "component", "fields": ["rank"]}}],
 "mark": {"type": "area"},
 "encoding": {
  "x": {"field": "grace", "type": "quantitative", "scale": {"domain": [0, 50]}, "axis": {"values": [0,10,20,30,40,50], "title": "Grace period (%)", "titlePadding": 7}},
  "y": {"field": "cost", "type": "quantitative", "stack": "zero", "scale": {"domain": [0, 140]}, "axis": {"values": [0,20,40,60,80,100,120,140], "title": null}},
  "order": {"field": "rank", "type": "quantitative", "sort": "ascending"},
  "color": {"field": "component", "type": "nominal", "scale": {"domain": ["Fixed-delta freight","Onshore charging","Battery cost","Charging device","BESS cost","Generation cost"], "range": ["#fdefc8","#00b0f0","#7030a0","#92d050","#c00000","#4472c4"]},
   "legend": {"title": null, "orient": "bottom-right", "columns": 2, "direction": "horizontal", "fillColor": "white", "symbolType": "square", "symbolSize": 20, "symbolStrokeWidth": 0, "offset": 2, "padding": 3, "columnPadding": 4, "rowPadding": 1, "labelOffset": 2}}
 }
},
{
 "width": 172, "height": 131, "data": {"name": "bd"},
 "transform": [{"filter": "datum.route === 'NS'"}, {"lookup": "component", "from": {"data": {"name": "stackrank"}, "key": "component", "fields": ["rank"]}}],
 "mark": {"type": "area"},
 "encoding": {
  "x": {"field": "grace", "type": "quantitative", "scale": {"domain": [0, 50]}, "axis": {"values": [0,10,20,30,40,50], "title": "Grace period (%)", "titlePadding": 7}},
  "y": {"field": "cost", "type": "quantitative", "stack": "zero", "scale": {"domain": [0, 160]}, "axis": {"values": [0,20,40,60,80,100,120,140,160], "title": null}},
  "order": {"field": "rank", "type": "quantitative", "sort": "ascending"},
  "color": {"field": "component", "type": "nominal", "scale": {"domain": ["Fixed-delta freight","Onshore charging","Battery cost","Charging device","BESS cost","Generation cost"], "range": ["#fdefc8","#00b0f0","#7030a0","#92d050","#c00000","#4472c4"]},
   "legend": {"title": null, "orient": "bottom-right", "columns": 2, "direction": "horizontal", "fillColor": "white", "symbolType": "square", "symbolSize": 20, "symbolStrokeWidth": 0, "offset": 2, "padding": 3, "columnPadding": 4, "rowPadding": 1, "labelOffset": 2}}
 }
},
{
 "width": 168, "height": 131, "data": {"name": "bd"},
 "transform": [{"filter": "datum.route === 'VP'"}, {"lookup": "component", "from": {"data": {"name": "stackrank"}, "key": "component", "fields": ["rank"]}}],
 "mark": {"type": "area"},
 "encoding": {
  "x": {"field": "grace", "type": "quantitative", "scale": {"domain": [0, 50]}, "axis": {"values": [0,10,20,30,40,50], "title": "Grace period (%)", "titlePadding": 7}},
  "y": {"field": "cost", "type": "quantitative", "stack": "zero", "scale": {"domain": [0, 160]}, "axis": {"values": [0,20,40,60,80,100,120,140,160], "title": null}},
  "order": {"field": "rank", "type": "quantitative", "sort": "ascending"},
  "color": {"field": "component", "type": "nominal", "scale": {"domain": ["Fixed-delta freight","Onshore charging","Battery cost","Charging device","BESS cost","Generation cost"], "range": ["#fdefc8","#00b0f0","#7030a0","#92d050","#c00000","#4472c4"]},
   "legend": {"title": null, "orient": "bottom-right", "columns": 2, "direction": "horizontal", "fillColor": "white", "symbolType": "square", "symbolSize": 20, "symbolStrokeWidth": 0, "offset": 2, "padding": 3, "columnPadding": 4, "rowPadding": 1, "labelOffset": 2}}
 }
}
]
}
